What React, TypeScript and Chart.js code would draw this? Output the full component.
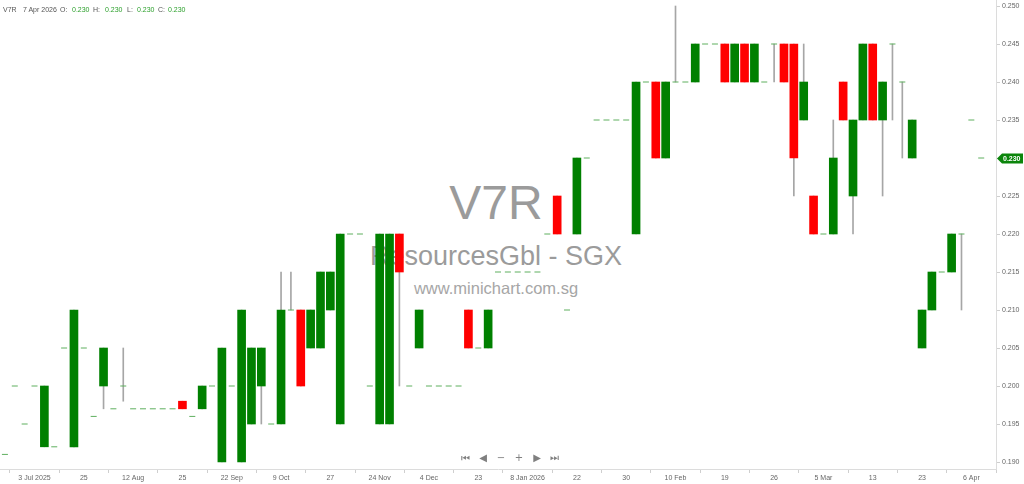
import React, { useEffect, useRef } from "react";
import { Chart, registerables } from "chart.js";

Chart.register(...registerables);

// daily OHLC for V7R
const opens = [
  0.191, 0.2, 0.195, 0.2, 0.192, 0.192, 0.205, 0.192, 0.205, 0.196,
  0.2, 0.197, 0.2, 0.197, 0.197, 0.197, 0.197, 0.197, 0.198, 0.196,
  0.197, 0.2, 0.19, 0.2, 0.19, 0.195, 0.2, 0.195, 0.195, 0.21,
  0.21, 0.205, 0.205, 0.21, 0.195, 0.22, 0.22, 0.2, 0.195, 0.195,
  0.22, 0.2, 0.205, 0.2, 0.2, 0.2, 0.2, 0.21, 0.205, 0.205,
  0.215, 0.215, 0.215, 0.215, 0.215, 0.22, 0.225, 0.21, 0.22, 0.23,
  0.235, 0.235, 0.235, 0.235, 0.22, 0.24, 0.24, 0.23, 0.24, 0.24,
  0.24, 0.245, 0.245, 0.245, 0.24, 0.245, 0.24, 0.24, 0.245, 0.245,
  0.245, 0.235, 0.225, 0.22, 0.22, 0.24, 0.225, 0.235, 0.245, 0.235,
  0.245, 0.24, 0.23, 0.205, 0.21, 0.215, 0.215, 0.22, 0.235, 0.23,
];
const highs = [
  0.191, 0.2, 0.195, 0.2, 0.2, 0.192, 0.205, 0.21, 0.205, 0.196,
  0.205, 0.197, 0.205, 0.197, 0.197, 0.197, 0.197, 0.197, 0.198, 0.196,
  0.2, 0.2, 0.205, 0.2, 0.21, 0.205, 0.205, 0.195, 0.215, 0.215,
  0.21, 0.21, 0.215, 0.215, 0.22, 0.22, 0.22, 0.2, 0.22, 0.22,
  0.22, 0.2, 0.21, 0.2, 0.2, 0.2, 0.2, 0.21, 0.205, 0.21,
  0.215, 0.215, 0.215, 0.215, 0.215, 0.22, 0.225, 0.21, 0.23, 0.23,
  0.235, 0.235, 0.235, 0.235, 0.24, 0.24, 0.24, 0.24, 0.25, 0.24,
  0.245, 0.245, 0.245, 0.245, 0.245, 0.245, 0.245, 0.24, 0.245, 0.245,
  0.245, 0.245, 0.225, 0.22, 0.235, 0.24, 0.235, 0.245, 0.245, 0.24,
  0.245, 0.24, 0.235, 0.21, 0.215, 0.215, 0.22, 0.22, 0.235, 0.23,
];
const lows = [
  0.191, 0.2, 0.195, 0.2, 0.192, 0.192, 0.205, 0.192, 0.205, 0.196,
  0.197, 0.197, 0.198, 0.197, 0.197, 0.197, 0.197, 0.197, 0.197, 0.196,
  0.197, 0.2, 0.19, 0.2, 0.19, 0.195, 0.195, 0.195, 0.195, 0.21,
  0.2, 0.205, 0.205, 0.21, 0.195, 0.22, 0.22, 0.2, 0.195, 0.195,
  0.2, 0.2, 0.205, 0.2, 0.2, 0.2, 0.2, 0.205, 0.205, 0.205,
  0.215, 0.215, 0.215, 0.215, 0.215, 0.22, 0.22, 0.21, 0.22, 0.23,
  0.235, 0.235, 0.235, 0.235, 0.22, 0.24, 0.23, 0.23, 0.24, 0.24,
  0.24, 0.245, 0.245, 0.24, 0.24, 0.24, 0.24, 0.24, 0.24, 0.24,
  0.225, 0.235, 0.22, 0.22, 0.22, 0.235, 0.22, 0.235, 0.235, 0.225,
  0.235, 0.23, 0.23, 0.205, 0.21, 0.215, 0.215, 0.21, 0.235, 0.23,
];
const closes = [
  0.191, 0.2, 0.195, 0.2, 0.2, 0.192, 0.205, 0.21, 0.205, 0.196,
  0.205, 0.197, 0.2, 0.197, 0.197, 0.197, 0.197, 0.197, 0.197, 0.196,
  0.2, 0.2, 0.205, 0.2, 0.21, 0.205, 0.205, 0.195, 0.21, 0.21,
  0.2, 0.21, 0.215, 0.215, 0.22, 0.22, 0.22, 0.2, 0.22, 0.22,
  0.215, 0.2, 0.21, 0.2, 0.2, 0.2, 0.2, 0.205, 0.205, 0.21,
  0.215, 0.215, 0.215, 0.215, 0.215, 0.22, 0.22, 0.21, 0.23, 0.23,
  0.235, 0.235, 0.235, 0.235, 0.24, 0.24, 0.23, 0.24, 0.24, 0.24,
  0.245, 0.245, 0.245, 0.24, 0.245, 0.24, 0.245, 0.24, 0.245, 0.24,
  0.23, 0.24, 0.22, 0.22, 0.23, 0.235, 0.235, 0.245, 0.235, 0.24,
  0.245, 0.24, 0.235, 0.21, 0.215, 0.215, 0.22, 0.22, 0.235, 0.23,
];

// every 5th bar gets a date label, starting at the 4th bar
const tickLabels = [
  "3 Jul 2025", "25", "12 Aug", "25", "22 Sep", "9 Oct", "27", "24 Nov", "4 Dec", "23",
  "8 Jan 2026", "22", "30", "10 Feb", "19", "26", "5 Mar", "13", "23", "6 Apr",
];
const FIRST_TICK = 3;
const TICK_EVERY = 5;
const SLOTS = opens.length + 1; // one empty slot before the price axis

const UP = "#008000";
const DOWN = "#ff0000";
const DOJI = "#5faf5f";
const WICK = "#a6a6a6";
const AXIS_FONT = { family: "'Liberation Sans', Arial, sans-serif", size: 7 };

const categories = Array.from({ length: SLOTS }, (_, i) => {
  const k = (i - FIRST_TICK) / TICK_EVERY;
  return Number.isInteger(k) && k >= 0 && k < tickLabels.length ? tickLabels[k] : "";
});

const lastClose = closes[closes.length - 1];

const priceTag = {
  id: "priceTag",
  afterDraw(chart: any) {
    const { ctx, chartArea, scales } = chart;
    const y = Math.round(scales.y.getPixelForValue(lastClose)) + 0.5;
    const x = chartArea.right + 1;
    ctx.save();
    ctx.fillStyle = "#0b850b";
    ctx.beginPath();
    ctx.moveTo(x, y);
    ctx.lineTo(x + 5, y - 5);
    ctx.lineTo(x + 26, y - 5);
    ctx.lineTo(x + 26, y + 5);
    ctx.lineTo(x + 5, y + 5);
    ctx.closePath();
    ctx.fill();
    ctx.fillStyle = "#ffffff";
    ctx.font = "bold 7px 'Liberation Sans', Arial, sans-serif";
    ctx.textBaseline = "middle";
    ctx.fillText(lastClose.toFixed(3), x + 6, y + 0.5);
    ctx.restore();
  },
};

const ChartCanvas: React.FC = () => {
  const canvasRef = useRef<HTMLCanvasElement>(null);

  useEffect(() => {
    if (!canvasRef.current) return;
    const bodies = opens.map((o, i) => (o === closes[i] ? null : [o, closes[i]]));
    const wicks = lows.map((l, i) => (highs[i] > l ? [l, highs[i]] : null));
    const dojis = opens.map((o, i) => (o === closes[i] ? o : null));

    const chart = new Chart(canvasRef.current, {
      type: "bar",
      data: {
        labels: categories,
        datasets: [
          {
            type: "line",
            data: dojis,
            showLine: false,
            pointStyle: "line",
            pointRadius: 3,
            pointBorderWidth: 1,
            pointBorderColor: DOJI,
            pointBackgroundColor: DOJI,
            order: 1,
          } as any,
          {
            data: bodies as any,
            grouped: false,
            barThickness: 8,
            borderWidth: 0,
            borderSkipped: false,
            backgroundColor: (c: any) =>
              closes[c.dataIndex] >= opens[c.dataIndex] ? UP : DOWN,
            order: 2,
          },
          {
            data: wicks as any,
            grouped: false,
            barThickness: 1,
            borderWidth: 0,
            backgroundColor: WICK,
            order: 3,
          },
        ],
      },
      options: {
        responsive: false,
        animation: false,
        events: [],
        layout: { padding: 0, autoPadding: false },
        plugins: { legend: { display: false }, tooltip: { enabled: false } },
        scales: {
          x: {
            offset: true,
            grid: { display: true, drawOnChartArea: false, tickLength: 4, color: "#cfcfcf" },
            border: { color: "#dcdcdc" },
            ticks: {
              autoSkip: false,
              maxRotation: 0,
              padding: 1,
              color: "#666",
              font: AXIS_FONT,
            },
            afterBuildTicks: (scale: any) => {
              scale.ticks = scale.ticks.filter((t: any) => categories[t.value] !== "");
            },
            afterFit: (scale: any) => {
              scale.height = 15;
              scale.paddingLeft = 0;
              scale.paddingRight = 0;
            },
          },
          y: {
            position: "right",
            min: 0.18908,
            max: 0.25079,
            grid: { display: true, drawOnChartArea: false, tickLength: 4, color: "#cfcfcf" },
            border: { color: "#dcdcdc" },
            ticks: {
              stepSize: 0.005,
              includeBounds: false,
              padding: 2,
              color: "#666",
              font: AXIS_FONT,
              callback: (v: any) => Number(v).toFixed(3),
            },
            afterFit: (scale: any) => {
              scale.width = 28;
              scale.paddingTop = 0;
              scale.paddingBottom = 0;
            },
          },
        },
      },
      plugins: [priceTag],
    });
    return () => {
      chart.destroy();
    };
  }, []);

  return (
    <canvas
      ref={canvasRef}
      width={1024}
      height={484}
      style={{ position: "absolute", left: 0, top: 0, width: 1024, height: 484, zIndex: 1 }}
    />
  );
};

const headFont = "'Liberation Sans', Arial, sans-serif";

export default function App() {
  const hdr = (left: number, text: string, color: string) => (
    <span style={{ position: "absolute", left, top: 0, color }}>{text}</span>
  );
  const nav = (left: number, text: string) => (
    <span style={{ position: "absolute", left: left - 6, width: 12, textAlign: "center", top: 0 }}>
      {text}
    </span>
  );
  return (
    <div
      style={{
        position: "absolute",
        left: 0,
        top: 0,
        width: 1024,
        height: 484,
        background: "#fff",
        overflow: "hidden",
        fontFamily: headFont,
      }}
    >
      {/* watermark, sits behind the candles */}
      <div style={{ position: "absolute", left: 0, width: 992, textAlign: "center", zIndex: 0, color: "#9b9b9b" }}>
        <div style={{ position: "absolute", top: 179, width: "100%", fontSize: 48, lineHeight: "48px" }}>V7R</div>
        <div style={{ position: "absolute", top: 243, width: "100%", fontSize: 27, lineHeight: "27px" }}>
          ResourcesGbl - SGX
        </div>
        <div style={{ position: "absolute", top: 280, width: "100%", fontSize: 16.5, lineHeight: "16.5px", color: "#a6a6a6" }}>
          www.minichart.com.sg
        </div>
      </div>
      <ChartCanvas />
      {/* header line */}
      <div style={{ position: "absolute", left: 0, top: 5, fontSize: 7, lineHeight: "10px", zIndex: 2, width: 300 }}>
        {hdr(3, "V7R", "#555")}
        {hdr(23, "7 Apr 2026", "#555")}
        {hdr(60, "O:", "#555")}
        {hdr(72, "0.230", "#2ca02c")}
        {hdr(93, "H:", "#555")}
        {hdr(105, "0.230", "#2ca02c")}
        {hdr(127, "L:", "#555")}
        {hdr(137, "0.230", "#2ca02c")}
        {hdr(158, "C:", "#555")}
        {hdr(168, "0.230", "#2ca02c")}
      </div>
      {/* navigation buttons */}
      <div style={{ position: "absolute", left: 0, top: 453, fontSize: 10, lineHeight: "10px", zIndex: 2, color: "#808080", width: 600, fontFamily: "'DejaVu Sans', sans-serif" }}>
        {nav(465, "⏮")}
        {nav(483, "◀")}
        {nav(501, "−")}
        {nav(519, "+")}
        {nav(537, "▶")}
        {nav(554, "⏭")}
      </div>
    </div>
  );
}
